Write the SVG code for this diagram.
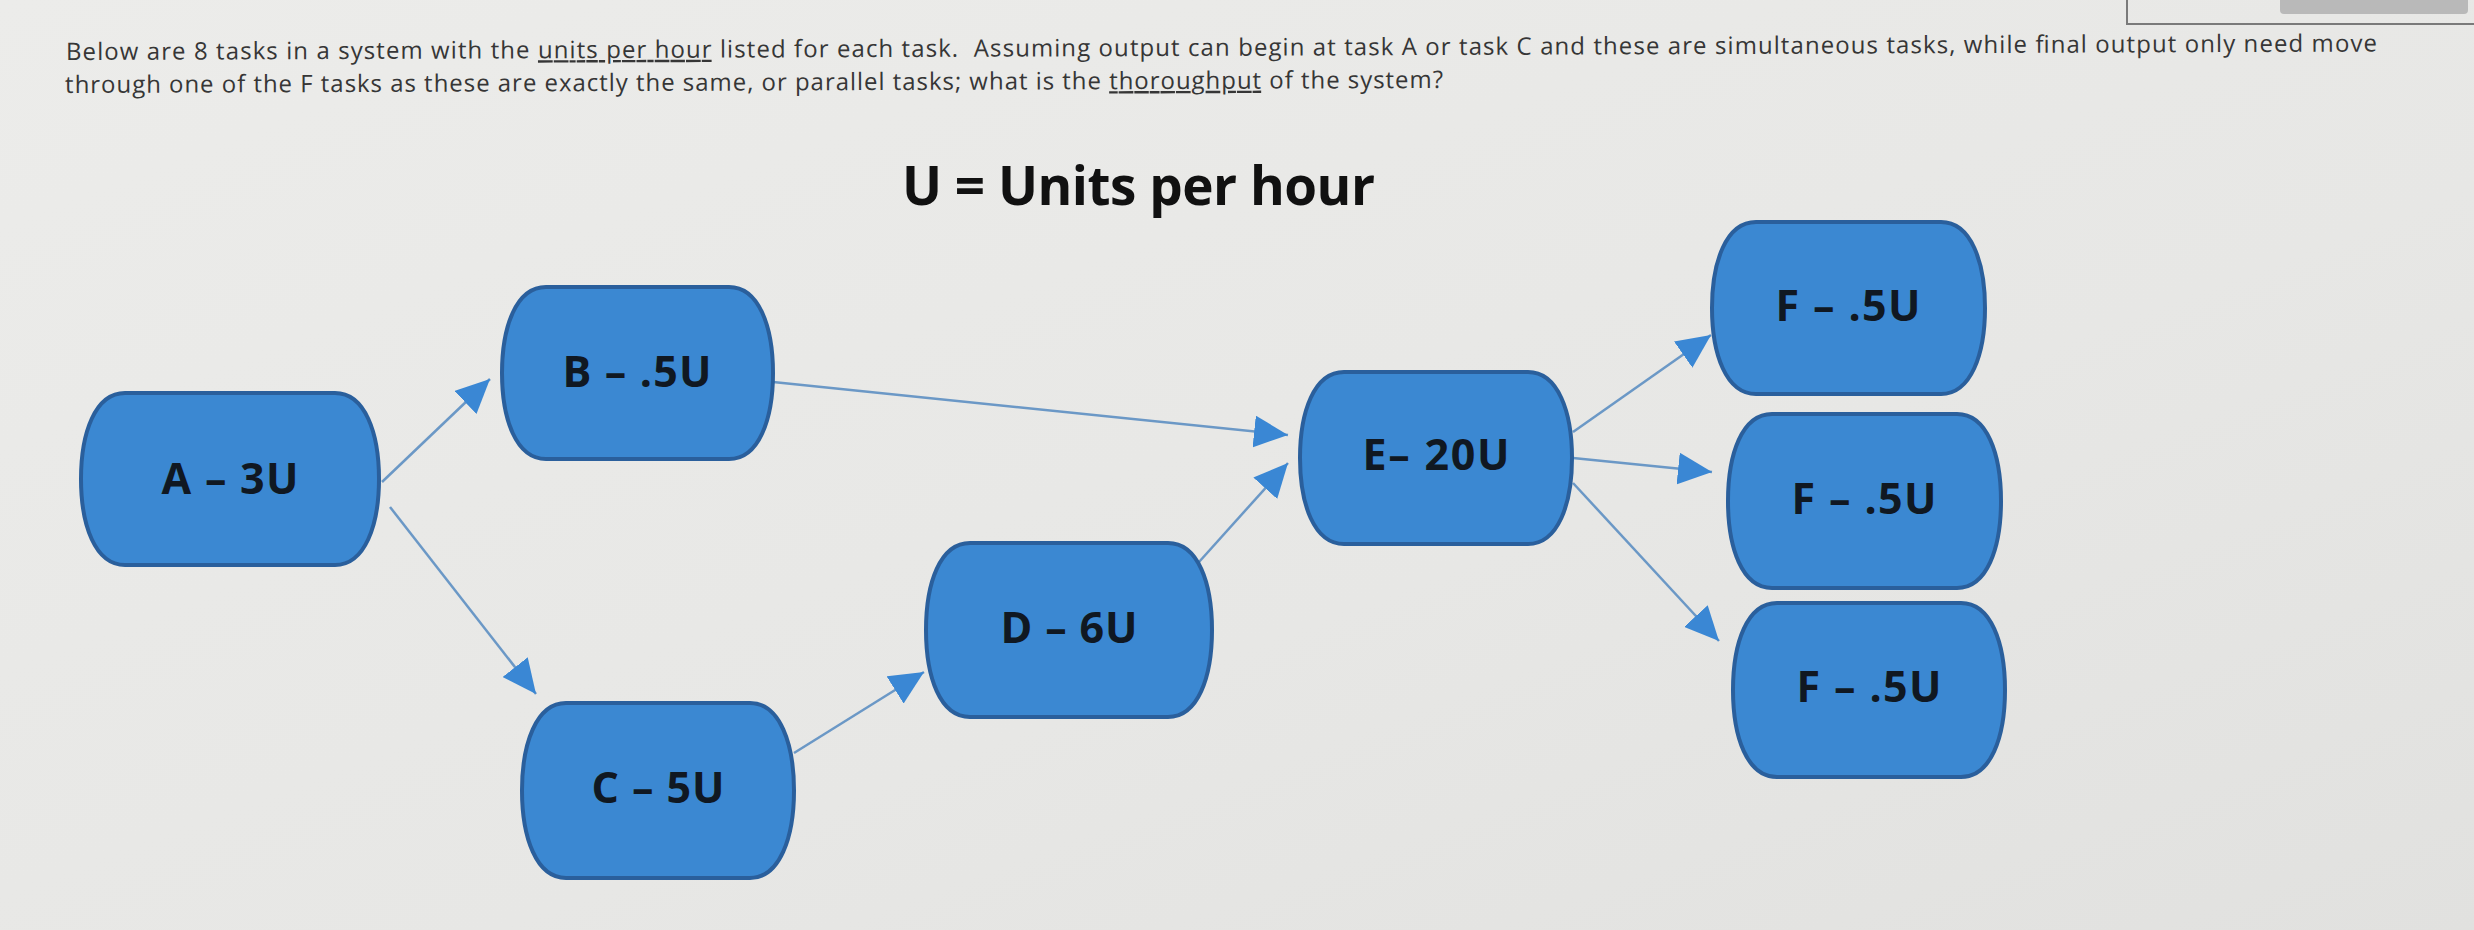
<svg xmlns="http://www.w3.org/2000/svg" width="2474" height="930" viewBox="0 0 2474 930">
<defs>
<linearGradient id="bg" x1="0" y1="0" x2="1" y2="1">
<stop offset="0" stop-color="#ececea"/>
<stop offset="0.6" stop-color="#e7e7e5"/>
<stop offset="1" stop-color="#e1e1df"/>
</linearGradient>
<marker id="arr" viewBox="0 0 34 32" refX="34" refY="16" markerWidth="34" markerHeight="32" markerUnits="userSpaceOnUse" orient="auto">
<path d="M0,0 L34,16 L0,32 Z" fill="#3a87d4"/>
</marker>
<style>
.node path{fill:#3b88d2;stroke:#2a5f9c;stroke-width:4}
.node text{font-family:"Open Sans","Liberation Sans",sans-serif;font-weight:700;font-size:43px;fill:#101822;text-anchor:middle}
.body{font-family:"Open Sans","Liberation Sans",sans-serif;font-size:24px;fill:#363636}
.u{text-decoration:underline}
.conn line{stroke:#6b98c6;stroke-width:2.5;marker-end:url(#arr)}
</style>
</defs>
<rect width="2474" height="930" fill="url(#bg)"/>
<g id="ui-frame">
<path d="M2127,0 V24 H2474" fill="none" stroke="#7a7a7a" stroke-width="2"/>
<path d="M2280,0 H2468 V10 Q2468,14 2464,14 H2284 Q2280,14 2280,10 Z" fill="#b9b9b9"/>
</g>
<g id="question" transform="rotate(-0.21 66 60)">
<text class="body" x="66" y="60" textLength="2311" lengthAdjust="spacing">Below are 8 tasks in a system with the <tspan class="u">units per hour</tspan> listed for each task.&#160; Assuming output can begin at task A or task C and these are simultaneous tasks, while final output only need move</text>
<text class="body" x="65" y="93" textLength="1378" lengthAdjust="spacing">through one of the F tasks as these are exactly the same, or parallel tasks; what is the <tspan class="u">thoroughput</tspan> of the system?</text>
</g>
<text id="legend" x="902" y="205" font-family="'Open Sans','Liberation Sans',sans-serif" font-weight="700" font-size="53" fill="#111" textLength="473" lengthAdjust="spacing">U = Units per hour</text>
<g id="connectors" class="conn">
<line x1="382" y1="482" x2="490" y2="379"/>
<line x1="390" y1="507" x2="536" y2="694"/>
<line x1="773" y1="382" x2="1288" y2="435"/>
<line x1="794" y1="753" x2="924" y2="672"/>
<line x1="1199" y1="562" x2="1288" y2="463"/>
<line x1="1573" y1="432" x2="1711" y2="335"/>
<line x1="1573" y1="458" x2="1712" y2="472"/>
<line x1="1573" y1="483" x2="1719" y2="641"/>
</g>
<g id="node-A" class="node" transform="translate(81,393)">
<path d="M44,0 H254 C284,0 298,40 298,86 C298,132 284,172 254,172 H44 C14,172 0,132 0,86 C0,40 14,0 44,0 Z"/>
<text x="149" y="101" textLength="137" lengthAdjust="spacing">A – 3U</text>
</g>
<g id="node-B" class="node" transform="translate(502,287)">
<path d="M44,0 H227 C257,0 271,40 271,86 C271,132 257,172 227,172 H44 C14,172 0,132 0,86 C0,40 14,0 44,0 Z"/>
<text x="135" y="100" textLength="149" lengthAdjust="spacing">B – .5U</text>
</g>
<g id="node-C" class="node" transform="translate(522,703)">
<path d="M44,0 H228 C258,0 272,41 272,87.5 C272,134 258,175 228,175 H44 C14,175 0,134 0,87.5 C0,41 14,0 44,0 Z"/>
<text x="136" y="100" textLength="133" lengthAdjust="spacing">C – 5U</text>
</g>
<g id="node-D" class="node" transform="translate(926,543)">
<path d="M44,0 H242 C272,0 286,40 286,87 C286,134 272,174 242,174 H44 C14,174 0,134 0,87 C0,40 14,0 44,0 Z"/>
<text x="143" y="100" textLength="137" lengthAdjust="spacing">D – 6U</text>
</g>
<g id="node-E" class="node" transform="translate(1300,372)">
<path d="M44,0 H228 C258,0 272,40 272,86 C272,132 258,172 228,172 H44 C14,172 0,132 0,86 C0,40 14,0 44,0 Z"/>
<text x="136" y="98" textLength="147" lengthAdjust="spacing">E– 20U</text>
</g>
<g id="node-F1" class="node" transform="translate(1712,222)">
<path d="M44,0 H229 C259,0 273,40 273,86 C273,132 259,172 229,172 H44 C14,172 0,132 0,86 C0,40 14,0 44,0 Z"/>
<text x="136" y="99" textLength="145" lengthAdjust="spacing">F – .5U</text>
</g>
<g id="node-F2" class="node" transform="translate(1728,414)">
<path d="M44,0 H229 C259,0 273,40 273,87 C273,134 259,174 229,174 H44 C14,174 0,134 0,87 C0,40 14,0 44,0 Z"/>
<text x="136" y="100" textLength="145" lengthAdjust="spacing">F – .5U</text>
</g>
<g id="node-F3" class="node" transform="translate(1733,603)">
<path d="M44,0 H228 C258,0 272,40 272,87 C272,134 258,174 228,174 H44 C14,174 0,134 0,87 C0,40 14,0 44,0 Z"/>
<text x="136" y="99" textLength="145" lengthAdjust="spacing">F – .5U</text>
</g>
</svg>
